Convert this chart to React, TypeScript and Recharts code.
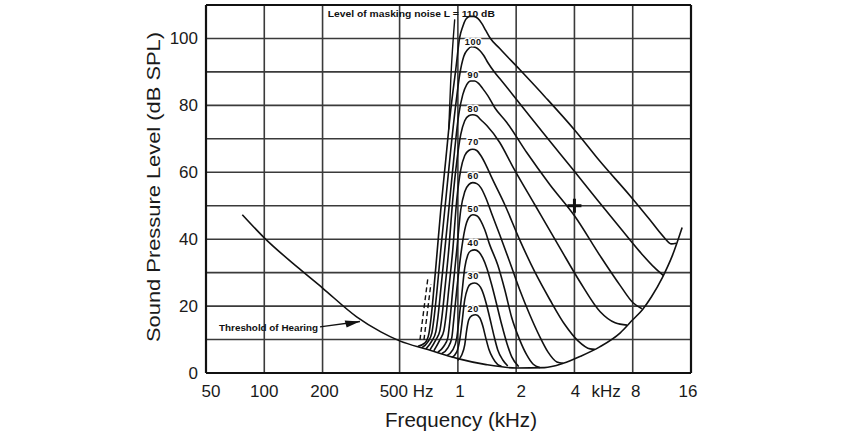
import React from 'react';
import {
  ComposedChart,
  Line,
  Scatter,
  XAxis,
  YAxis,
  CartesianGrid,
  ReferenceLine,
} from 'recharts';

const FONT = '"Liberation Sans", Arial, Helvetica, sans-serif';

// ---------- axes ----------
const xTicks = [50, 100, 200, 500, 1000, 2000, 4000, 8000, 16000];
const xTickLabels = ['50', '100', '200', '500 Hz', '1', '2', '4', '8', '16'];
const yTicks = [0, 10, 20, 30, 40, 50, 60, 70, 80, 90, 100, 110];
const yTickLabels = ['0', '', '20', '', '40', '', '60', '', '80', '', '100', ''];

// ---------- threshold of hearing (Hz, dB SPL) ----------
const threshold = [
  [77, 47.3], [100, 40.4], [150, 31.4], [200, 25.4], [300, 16.8], [400, 12.3],
  [500, 9.6], [700, 7.0], [1000, 4.3], [1400, 2.5], [2000, 1.5], [2800, 1.6],
  [3500, 2.9], [4300, 5.0], [5400, 7.8], [6900, 12.0], [8000, 15.9], [9000, 19.0],
  [10000, 22.8], [11400, 28.6], [12800, 35.0], [14400, 43.5],
];

// ---------- masked thresholds for noise levels L (Hz, dB SPL) ----------
const mask110 = [
  [622, 8.0], [676, 9.0], [708, 11.7], [725, 15.9], [751, 24.9], [779, 35.3], [816, 48.8],
  [866, 63.8], [919, 78.7], [975, 90.7], [1022, 100.3], [1060, 103.6], [1098, 105.7],
  [1152, 106.6], [1208, 106.6], [1267, 106.0], [1328, 104.5], [1393, 102.4], [1461, 100.3],
  [1645, 97.0], [2086, 90.7], [2815, 82.6], [4027, 72.5], [5433, 63.2], [7747, 53.0],
  [9808, 45.8], [11436, 41.0], [12710, 38.6], [13400, 38.8],
];
const mask100 = [
  [652, 7.6], [700, 9.3], [734, 12.0], [751, 15.9], [779, 24.3], [816, 36.8], [866, 51.8],
  [919, 66.8], [975, 80.2], [1022, 89.2], [1072, 94.6], [1125, 96.7], [1179, 97.5],
  [1237, 97.3], [1297, 96.4], [1360, 94.9], [1427, 92.8], [1551, 89.8], [1645, 88.0],
  [2013, 81.7], [2748, 71.9], [3930, 60.8], [5243, 51.8], [6883, 43.4], [8718, 36.2],
  [10405, 31.4], [11500, 29.2],
];
const mask90 = [
  [684, 7.2], [734, 9.6], [769, 12.3], [788, 16.5], [816, 24.9], [856, 36.8], [908, 51.8],
  [963, 66.8], [1010, 77.2], [1060, 83.2], [1111, 86.2], [1165, 87.3], [1222, 87.3],
  [1282, 86.5], [1344, 85.0], [1427, 82.9], [1551, 79.3], [1789, 74.9], [2268, 65.9],
  [2988, 56.3], [4027, 46.8], [5433, 35.0], [6883, 26.2], [8028, 21.0], [8927, 19.2],
];
const mask80 = [
  [717, 6.9], [769, 9.9], [807, 12.6], [826, 16.5], [856, 24.9], [897, 36.8], [941, 51.8],
  [987, 63.2], [1035, 71.3], [1085, 75.4], [1138, 76.9], [1193, 77.2], [1252, 76.9],
  [1313, 75.7], [1410, 74.0], [1645, 68.9], [1920, 61.7], [2497, 50.3], [3365, 37.4],
  [4276, 27.2], [5433, 18.3], [6488, 15.0], [7477, 14.3],
];
const mask70 = [
  [751, 6.6], [807, 9.9], [846, 12.6], [866, 16.5], [897, 24.9], [941, 36.8], [987, 51.8],
  [1035, 60.8], [1085, 65.0], [1138, 66.5], [1193, 66.9], [1252, 66.5], [1313, 65.0],
  [1393, 62.3], [1496, 58.4], [1747, 50.3], [2086, 39.8], [2497, 30.2], [2988, 21.9],
  [3573, 14.4], [4174, 9.6], [4821, 7.2], [5100, 7.1],
];
const mask60 = [
  [788, 6.2], [846, 8.0], [887, 10.5], [908, 15.3], [941, 24.9], [987, 36.8], [1035, 48.8],
  [1085, 54.2], [1138, 56.3], [1193, 56.9], [1252, 56.6], [1313, 55.4], [1393, 52.4],
  [1496, 47.6], [1645, 41.3], [1853, 33.2], [2086, 24.9], [2352, 17.4], [2651, 10.8],
  [2917, 6.3], [3246, 3.3], [3500, 2.9],
];
const mask50 = [
  [826, 5.8], [887, 7.5], [930, 10.5], [952, 15.9], [987, 24.9], [1035, 35.3], [1085, 42.8],
  [1138, 46.4], [1193, 47.3], [1252, 47.0], [1313, 45.5], [1377, 42.8], [1461, 38.3],
  [1607, 32.3], [1747, 24.9], [1898, 16.5], [2086, 9.9], [2268, 5.4], [2450, 2.6], [2650, 1.6],
];
const mask40 = [
  [876, 5.2], [941, 6.9], [987, 10.5], [1010, 15.3], [1047, 23.4], [1085, 31.4], [1125, 35.3],
  [1165, 36.5], [1222, 36.8], [1282, 36.2], [1344, 34.4], [1410, 31.4], [1496, 26.3],
  [1588, 20.4], [1685, 14.4], [1789, 9.0], [1898, 4.8], [2061, 1.9],
];
const mask30 = [
  [930, 4.6], [987, 6.3], [1022, 9.9], [1047, 14.4], [1085, 21.9], [1125, 25.4], [1165, 26.6],
  [1222, 26.9], [1282, 26.3], [1328, 24.9], [1393, 21.3], [1461, 16.5], [1532, 11.4],
  [1607, 6.9], [1706, 3.9], [1810, 2.1],
];
const mask20 = [
  [998, 3.8], [1047, 5.4], [1085, 8.4], [1111, 12.9], [1138, 15.9], [1179, 17.1], [1237, 17.4],
  [1297, 16.5], [1344, 14.1], [1393, 10.5], [1444, 7.2], [1514, 4.5], [1607, 2.5], [1680, 2.0],
];
const maskCurves = [mask110, mask100, mask90, mask80, mask70, mask60, mask50, mask40, mask30, mask20];
const maskLevels = [110, 100, 90, 80, 70, 60, 50, 40, 30, 20];

// dashed extrapolations at the low-frequency side
const dashedA = [[637, 9.9], [700, 28.4]];
const dashedB = [[668, 9.9], [725, 26.6]];
// leader from the L = 110 dB note down along the low-frequency flank
const noteLeader = [[897, 72.8], [919, 87.7], [963, 105.7]];

// ---------- annotations ----------
const levelLabelText = ['100', '90', '80', '70', '60', '50', '40', '30', '20'];
const levelLabelPos = [
  [1200, 99], [1200, 89], [1200, 79], [1200, 69], [1200, 59], [1200, 49], [1200, 39], [1200, 29], [1200, 19],
];
const noteText = 'Level of masking noise  L = 110 dB';
const notePos = [[213, 107.4]];
const thresholdText = 'Threshold of Hearing';
const thresholdTextPos = [[58.4, 13.6]];
const arrowLine = [[194, 13.8], [312, 15.4]];
const arrowTip = [[312, 15.4]];
const plusPos = [[4000, 50]];

const toPts = (arr: number[][]) => arr.map(([f, db]) => ({ f, db }));

const X_DX = [5, 0, 2, 7, 2, 5, 1, 3, -3];

function XTick(props: any) {
  const { x, y, payload } = props;
  const i = xTicks.indexOf(payload.value);
  if (i < 0) return <g />;
  return (
    <g>
      <text x={x + X_DX[i]} y={y + 24} textAnchor="middle" fontSize={17} fontFamily={FONT} fill="#1a1a1a">
        {xTickLabels[i]}
      </text>
      {payload.value === 4000 && (
        <text x={x + 17} y={y + 24} textAnchor="start" fontSize={17} fontFamily={FONT} fill="#1a1a1a">
          kHz
        </text>
      )}
    </g>
  );
}

function YTick(props: any) {
  const { x, y, payload } = props;
  const i = yTicks.indexOf(payload.value);
  const t = i >= 0 ? yTickLabels[i] : '';
  if (!t) return <g />;
  return (
    <text x={x - 8} y={y + 6} textAnchor="end" fontSize={17} fontFamily={FONT} fill="#1a1a1a">
      {t}
    </text>
  );
}

const XTitle = () => (
  <text x={385} y={427} fontSize={20} fontFamily={FONT} fill="#1a1a1a" textLength={152} lengthAdjust="spacingAndGlyphs">
    Frequency (kHz)
  </text>
);

const YTitle = () => (
  <text
    x={160}
    y={187}
    transform="rotate(-90 160 187)"
    textAnchor="middle"
    fontSize={18}
    fontFamily={FONT}
    fill="#1a1a1a"
    textLength={310}
    lengthAdjust="spacingAndGlyphs"
  >
    Sound Pressure Level (dB SPL)
  </text>
);

const LevelLabelShape = (props: any) => {
  const { cx, cy, index } = props;
  return (
    <text
      x={cx}
      y={cy}
      textAnchor="middle"
      dominantBaseline="central"
      fontSize={9}
      fontWeight="bold"
      fontFamily={FONT}
      fill="#111"
      stroke="#fff"
      strokeWidth={3}
      paintOrder="stroke"
      letterSpacing={0.6}
    >
      {levelLabelText[index]}
    </text>
  );
};

const NoteShape = (props: any) => (
  <text
    x={props.cx}
    y={props.cy}
    dominantBaseline="central"
    fontSize={8.5}
    fontWeight="bold"
    fontFamily={FONT}
    fill="#111"
    textLength={167}
    lengthAdjust="spacingAndGlyphs"
  >
    {noteText}
  </text>
);

const ThresholdTextShape = (props: any) => (
  <text
    x={props.cx}
    y={props.cy}
    dominantBaseline="central"
    fontSize={8.5}
    fontWeight="bold"
    fontFamily={FONT}
    fill="#111"
    textLength={99}
    lengthAdjust="spacingAndGlyphs"
  >
    {thresholdText}
  </text>
);

const ArrowHeadShape = (props: any) => {
  const { cx, cy } = props;
  return (
    <polygon
      points={`${cx},${cy} ${cx - 15},${cy - 3} ${cx - 14},${cy + 4}`}
      transform={`rotate(-8 ${cx} ${cy})`}
      fill="#111"
    />
  );
};

const PlusShape = (props: any) => {
  const { cx, cy } = props;
  return (
    <g stroke="#111" strokeWidth={3}>
      <line x1={cx - 7} y1={cy} x2={cx + 7} y2={cy} />
      <line x1={cx} y1={cy - 7} x2={cx} y2={cy + 7} />
    </g>
  );
};

const lineProps = {
  dataKey: 'db',
  stroke: '#111',
  dot: false,
  activeDot: false,
  isAnimationActive: false,
} as const;

export default function App() {
  return (
    <div style={{ position: 'absolute', left: 0, top: 0, background: '#fff' }}>
      <ComposedChart width={850} height={442} margin={{ top: 5, right: 159, bottom: 0, left: 0 }}>
        <CartesianGrid stroke="#3a3a3a" strokeWidth={1.6} />
        <XAxis
          type="number"
          dataKey="f"
          scale="log"
          domain={[50, 16000]}
          ticks={xTicks}
          interval={0}
          allowDataOverflow
          height={69}
          axisLine={false}
          tickLine={false}
          tickSize={0}
          tickMargin={0}
          tick={<XTick />}
          label={XTitle}
        />
        <YAxis
          type="number"
          domain={[0, 110]}
          ticks={yTicks}
          interval={0}
          allowDataOverflow
          width={206}
          axisLine={false}
          tickLine={false}
          tickSize={0}
          tickMargin={0}
          tick={<YTick />}
          label={YTitle}
        />
        <ReferenceLine x={50} stroke="#111" strokeWidth={2.2} />
        <ReferenceLine x={16000} stroke="#111" strokeWidth={2.2} />
        <ReferenceLine y={0} stroke="#111" strokeWidth={2.2} />
        <ReferenceLine y={110} stroke="#111" strokeWidth={2.2} />

        <Line {...lineProps} data={toPts(threshold)} type="monotone" strokeWidth={1.6} />
        {maskCurves.map((c, i) => (
          <Line key={maskLevels[i]} {...lineProps} data={toPts(c)} type="monotone" strokeWidth={1.6} />
        ))}
        <Line {...lineProps} data={toPts(noteLeader)} type="monotone" strokeWidth={1.4} />
        <Line {...lineProps} data={toPts(dashedA)} type="linear" strokeWidth={1.4} strokeDasharray="5 3" />
        <Line {...lineProps} data={toPts(dashedB)} type="linear" strokeWidth={1.4} strokeDasharray="5 3" />
        <Line {...lineProps} data={toPts(arrowLine)} type="linear" strokeWidth={1.4} />

        <Scatter data={toPts(levelLabelPos)} dataKey="db" shape={LevelLabelShape} isAnimationActive={false} />
        <Scatter data={toPts(notePos)} dataKey="db" shape={NoteShape} isAnimationActive={false} />
        <Scatter data={toPts(thresholdTextPos)} dataKey="db" shape={ThresholdTextShape} isAnimationActive={false} />
        <Scatter data={toPts(arrowTip)} dataKey="db" shape={ArrowHeadShape} isAnimationActive={false} />
        <Scatter data={toPts(plusPos)} dataKey="db" shape={PlusShape} isAnimationActive={false} />
      </ComposedChart>
    </div>
  );
}
